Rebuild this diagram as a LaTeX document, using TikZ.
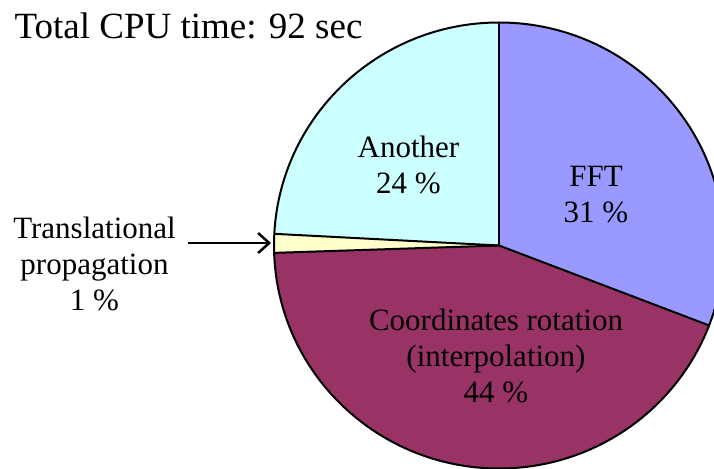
\documentclass[tikz,border=0pt]{standalone}
\usepackage{fontspec}
\setmainfont{Liberation Serif}
\usetikzlibrary{arrows.meta}
\definecolor{fftblue}{HTML}{9999FF}
\definecolor{rotplum}{HTML}{993366}
\definecolor{transcream}{HTML}{FFFFCC}
\definecolor{othercyan}{HTML}{CCFFFF}
\tikzset{
  slice/.style={draw=black, line width=2pt, line join=round},
  lbl/.style={align=center, anchor=base, inner sep=0pt,
    font=\fontsize{31}{36}\selectfont},
  ttl/.style={anchor=base, inner sep=0pt, font=\fontsize{37}{40}\selectfont},
}
\begin{document}
\begin{tikzpicture}[x=1pt,y=1pt]
\useasboundingbox (0,0) rectangle (714,468);
\clip (0,0) rectangle (714,468);
\coordinate (c) at (499,222.5);
% pie slices
\fill[fftblue] (c) -- ++(90:225 and 223) arc[start angle=90, end angle=-21, x radius=225, y radius=223] -- cycle;
\fill[rotplum] (c) -- ++(-21:225 and 223) arc[start angle=-21, end angle=-178.1, x radius=225, y radius=223] -- cycle;
\fill[transcream] (c) -- ++(181.9:225 and 223) arc[start angle=181.9, end angle=177, x radius=225, y radius=223] -- cycle;
\fill[othercyan] (c) -- ++(177:225 and 223) arc[start angle=177, end angle=90, x radius=225, y radius=223] -- cycle;
\draw[slice] (c) ellipse[x radius=225, y radius=223];
\draw[slice] (c) -- ++(90:225 and 223);
\draw[slice] (c) -- ++(-21:225 and 223);
\draw[slice] (c) -- ++(181.9:225 and 223);
\draw[slice] (c) -- ++(177:225 and 223);
\coordinate (tip) at (271,225);
% labels (anchored on the baseline of the last line)
\node[ttl] (title) at (188.5,429) {Total CPU time: 92 sec};
\node[lbl] (other) at (408.5,274) {Another\\24 \%};
\node[lbl] (fft) at (596,245) {FFT\\31 \%};
\node[lbl] (rot) at (496,65) {Coordinates rotation\\(interpolation)\\44 \%};
\node[lbl] (trans) at (94.5,157) {Translational\\propagation\\1 \%};
\coordinate (tail) at (188,225);
\draw[line width=2.5pt, -{Straight Barb[length=11pt, width=20pt, line width=2.5pt]}] (tail) -- (tip);
\end{tikzpicture}
\end{document}
